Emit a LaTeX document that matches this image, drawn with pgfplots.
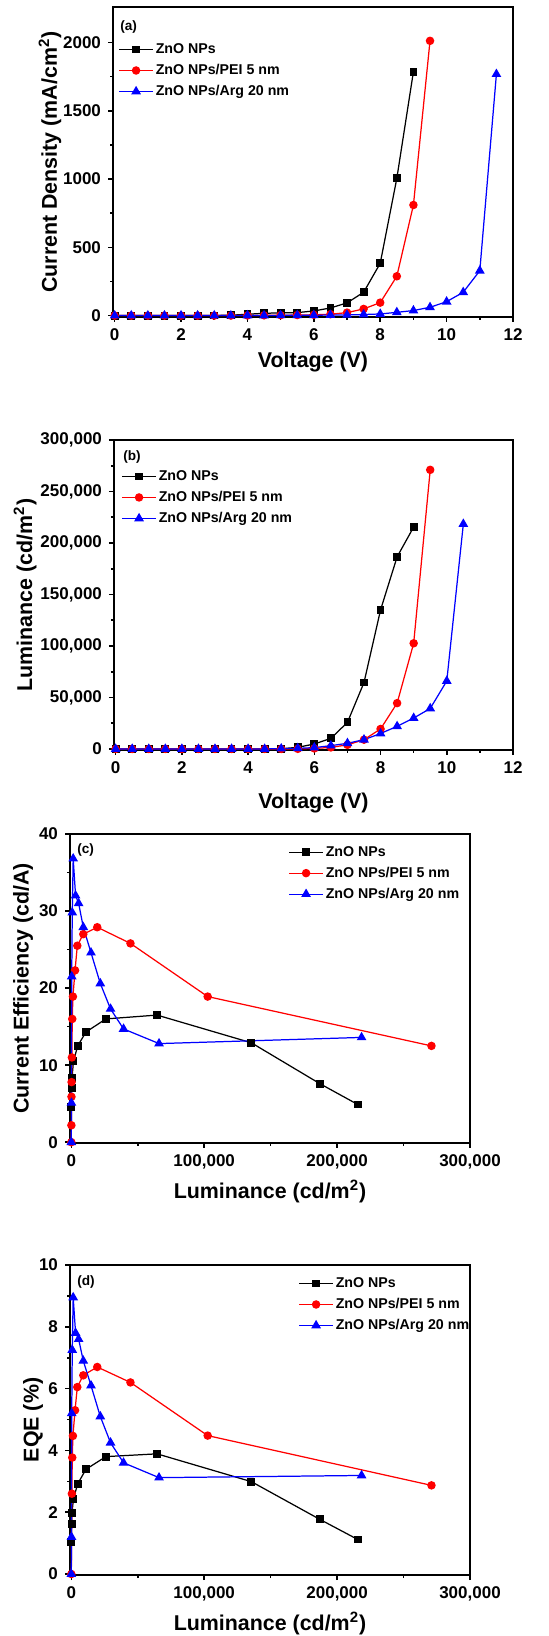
\documentclass[border=0pt]{standalone}
\usepackage{fontspec}
\setmainfont{Liberation Sans}
\usepackage{pgfplots}
\pgfplotsset{compat=1.18}
\pgfplotsset{
 myax/.style={
   scale only axis,
   axis line style={line width=0.9pt},
   every tick/.style={line width=0.8pt, black},
   major tick length=2.5pt, minor tick length=1.5pt,
   tick align=outside,
   xtick pos=bottom, ytick pos=left,
   minor tick num=1,
   scaled ticks=false,
   clip=false,
   tick label style={font=\fontsize{8.5}{10}\selectfont\bfseries},
   label style={font=\fontsize{10.7}{12}\selectfont\bfseries},
   /pgf/number format/fixed,
   /pgf/number format/assume math mode=true,
   /pgf/number format/1000 sep={,},
   legend style={draw=none, fill=none, inner sep=0pt, anchor=north west,
     font=\fontsize{7.1}{8}\selectfont\bfseries, row sep=1.4pt,
     nodes={inner sep=1pt, text height=5.5pt, text depth=1.6pt}},
   legend cell align=left,
   every axis plot/.append style={line width=0.62pt},
 },
 sq/.style={black, mark=square*, mark size=1.65pt, mark options={solid, fill=black}},
 ci/.style={red, mark=*, mark size=1.8pt, mark options={solid, fill=red}},
 tr/.style={blue, mark=triangle*, mark size=2.2pt, mark options={solid, fill=blue}},
}
\begin{document}
\begin{tikzpicture}
\useasboundingbox (0,0) rectangle (274pt,818pt);
% ---------------- (a)
\begin{axis}[myax, at={(56.5pt,659.5pt)}, anchor=south west,
  width=200pt, height=155pt,
  xmin=-0.05, xmax=12, ymin=-10, ymax=2260,
  xtick={0,2,...,12}, ytick={0,500,...,2000},
  yticklabel style={/pgf/number format/1000 sep={}},
  xlabel={Voltage (V)}, ylabel={Current Density (mA/cm\textsuperscript{2})},
  xlabel style={at={(axis description cs:0.5,-0.145)}, anchor=center},
  ylabel style={at={(axis description cs:-0.1575,0.5)}, anchor=center},
  legend style={at={(axis description cs:0.0125,0.8935)}},
]
\addplot[sq] coordinates {(0,0)(0.5,0)(1,0)(1.5,0)(2,0)(2.5,0)(3,1)(3.5,3)(4,10)(4.5,17)(5,20)(5.5,22)(6,34)(6.5,56)(7,93)(7.5,171)(8,383)(8.5,1005)(9,1786)};
\addplot[ci] coordinates {(0,0)(0.5,0)(1,0)(1.5,0)(2,0)(2.5,0)(3,0)(3.5,0)(4,1)(4.5,2)(5,3)(5.5,4)(6,6)(6.5,10)(7,22)(7.5,49)(8,95)(8.5,288)(9,810)(9.5,2012)};
\addplot[tr] coordinates {(0,0)(0.5,0)(1,0)(1.5,0)(2,0)(2.5,0)(3,0)(3.5,0)(4,1)(4.5,1)(5,2)(5.5,2)(6,3)(6.5,4)(7,5)(7.5,8)(8,12)(8.5,24)(9,37)(9.5,61)(10,102)(10.5,171)(11,329)(11.5,1768)};
\legend{ZnO NPs, ZnO NPs/PEI 5 nm, ZnO NPs/Arg 20 nm}
\node[anchor=west, font=\fontsize{6.8}{8}\selectfont\bfseries, inner sep=0pt] at (axis description cs:0.0175,0.935) {(a)};
\end{axis}
% ---------------- (b)
\begin{axis}[myax, at={(57pt,443pt)}, anchor=south west,
  width=199.5pt, height=155pt,
  xmin=-0.05, xmax=12, ymin=-1000, ymax=300000,
  xtick={0,2,...,12}, ytick={0,50000,...,300000},
  xlabel={Voltage (V)}, ylabel={Luminance (cd/m\textsuperscript{2})},
  xlabel style={at={(axis description cs:0.5,-0.171)}, anchor=center},
  ylabel style={at={(axis description cs:-0.223,0.5)}, anchor=center},
  legend style={at={(axis description cs:0.0175,0.913)}},
]
\addplot[sq] coordinates {(0,0)(0.5,0)(1,0)(1.5,0)(2,0)(2.5,0)(3,0)(3.5,0)(4,0)(4.5,0)(5,200)(5.5,1600)(6,4800)(6.5,10300)(7,25800)(7.5,64500)(8,135000)(8.5,186500)(9,215500)};
\addplot[ci] coordinates {(0,0)(0.5,0)(1,0)(1.5,0)(2,0)(2.5,0)(3,0)(3.5,0)(4,0)(4.5,0)(5,0)(5.5,100)(6,500)(6.5,1500)(7,4000)(7.5,9000)(8,19400)(8.5,44500)(9,102600)(9.5,271000)};
\addplot[tr] coordinates {(0,0)(0.5,0)(1,0)(1.5,0)(2,0)(2.5,0)(3,0)(3.5,0)(4,0)(4.5,0)(5,300)(5.5,600)(6,1300)(6.5,3200)(7,5500)(7.5,9000)(8,15000)(8.5,22000)(9,30000)(9.5,39300)(10,66000)(10.5,218400)};
\legend{ZnO NPs, ZnO NPs/PEI 5 nm, ZnO NPs/Arg 20 nm}
\node[anchor=west, font=\fontsize{6.8}{8}\selectfont\bfseries, inner sep=0pt] at (axis description cs:0.0225,0.945) {(b)};
\end{axis}
% ---------------- (c)
\begin{axis}[myax, at={(35pt,246.5pt)}, anchor=south west,
  width=200pt, height=154.5pt,
  xmin=-1000, xmax=300000, ymin=-0.1, ymax=40,
  xtick={0,100000,200000,300000}, ytick={0,10,...,40},
  xlabel={Luminance (cd/m\textsuperscript{2})}, ylabel={Current Efficiency (cd/A)},
  xlabel style={at={(axis description cs:0.5,-0.158)}, anchor=center},
  ylabel style={at={(axis description cs:-0.1175,0.5)}, anchor=center},
  legend style={at={(axis description cs:0.545,0.972)}},
]
\addplot[sq] coordinates {(50,4.5)(200,7.0)(500,8.3)(1600,10.5)(4800,12.5)(11000,14.3)(26000,16.0)(64500,16.5)(135500,12.9)(187000,7.6)(215500,4.9)};
\addplot[ci] coordinates {(0,0)(50,2.2)(100,5.9)(200,7.8)(400,11.0)(700,16.0)(1200,18.9)(2800,22.3)(4500,25.5)(9000,27.0)(19500,27.9)(44500,25.8)(102600,18.9)(271000,12.5)};
\addplot[tr] coordinates {(0,0)(100,5.1)(300,21.5)(700,29.8)(1400,36.8)(3200,32.0)(5500,31.0)(9000,27.9)(14800,24.6)(21800,20.6)(29500,17.3)(39300,14.7)(66000,12.8)(218400,13.6)};
\legend{ZnO NPs, ZnO NPs/PEI 5 nm, ZnO NPs/Arg 20 nm}
\node[anchor=west, font=\fontsize{6.8}{8}\selectfont\bfseries, inner sep=0pt] at (axis description cs:0.0175,0.948) {(c)};
\end{axis}
% ---------------- (d)
\begin{axis}[myax, at={(35pt,30.5pt)}, anchor=south west,
  width=200pt, height=155pt,
  xmin=-1000, xmax=300000, ymin=-0.03, ymax=10,
  xtick={0,100000,200000,300000}, ytick={0,2,...,10},
  xlabel={Luminance (cd/m\textsuperscript{2})}, ylabel={EQE (\%)},
  xlabel style={at={(axis description cs:0.5,-0.155)}, anchor=center},
  ylabel style={at={(axis description cs:-0.0925,0.5)}, anchor=center},
  legend style={at={(axis description cs:0.57,0.971)}},
]
\addplot[sq] coordinates {(50,1.05)(200,1.62)(500,1.97)(1600,2.44)(4800,2.92)(11000,3.39)(26000,3.8)(64500,3.89)(135500,2.99)(187000,1.77)(215500,1.12)};
\addplot[ci] coordinates {(0,0)(400,2.6)(700,3.77)(1200,4.47)(2800,5.3)(4500,6.05)(9000,6.43)(19500,6.7)(44500,6.2)(102600,4.48)(271000,2.87)};
\addplot[tr] coordinates {(0,0)(100,1.2)(300,5.2)(700,7.25)(1400,8.95)(3200,7.8)(5500,7.6)(9000,6.9)(14800,6.1)(21800,5.1)(29500,4.25)(39300,3.6)(66000,3.12)(218400,3.19)};
\legend{ZnO NPs, ZnO NPs/PEI 5 nm, ZnO NPs/Arg 20 nm}
\node[anchor=west, font=\fontsize{6.8}{8}\selectfont\bfseries, inner sep=0pt] at (axis description cs:0.0175,0.945) {(d)};
\end{axis}
\end{tikzpicture}
\end{document}
